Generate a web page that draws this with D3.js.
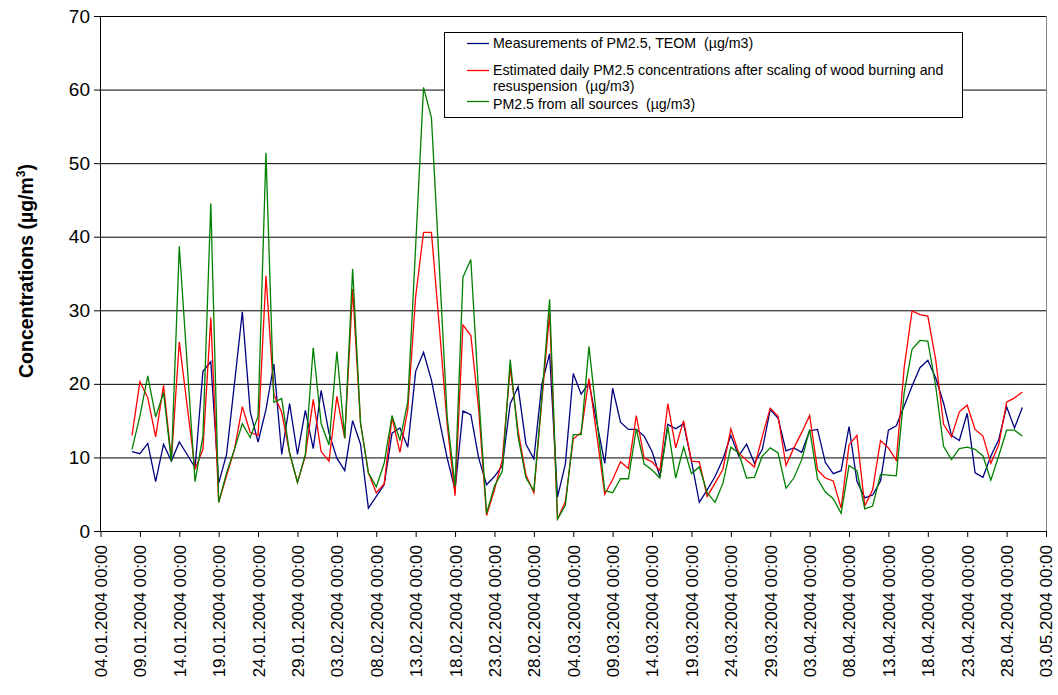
<!DOCTYPE html>
<html>
<head>
<meta charset="utf-8">
<script src="https://cdn.jsdelivr.net/npm/d3@7"></script>
<style>
  body { margin: 0; background: #fff; }
  svg { display: block; }
  text { font-family: "Liberation Sans", Arial, sans-serif; fill: #000; }
</style>
</head>
<body>
<svg id="chart" width="1058" height="695"></svg>
<script>
// Daily PM2.5 series, one value per day starting on firstDay (µg/m3)
const firstDay = "08.01.2004";
const teom = [
  10.8, 10.5, 11.9, 6.7, 11.8, 9.5, 12.1, 10.4, 8.6, 21.7,
  23.0, 6.5, 10.4, 20.0, 29.8, 16.2, 12.1, 16.5, 22.7, 10.4,
  17.3, 10.4, 16.4, 11.2, 19.1, 13.3, 9.9, 8.2, 15.0, 11.8,
  3.1, 4.7, 6.3, 13.3, 14.0, 11.4, 21.7, 24.3, 20.5, 15.1,
  9.9, 5.6, 16.3, 15.8, 9.9, 6.3, 7.4, 8.9, 17.3, 19.6,
  11.8, 9.8, 19.9, 24.1, 4.6, 9.1, 21.4, 18.6, 20.1, 14.7,
  9.2, 19.4, 14.8, 13.8, 13.8, 12.9, 10.8, 7.4, 14.5, 13.9,
  14.6, 9.5, 3.9, 5.6, 7.4, 9.8, 13.0, 10.2, 11.8, 9.2,
  11.1, 16.5, 15.3, 10.9, 11.3, 10.7, 13.6, 13.8, 9.3, 7.8,
  8.2, 14.2, 6.8, 4.5, 4.9, 6.8, 13.7, 14.3, 17.0, 19.7,
  22.2, 23.2, 20.8, 17.4, 13.0, 12.3, 16.0, 7.9, 7.3, 10.2,
  12.4, 16.9, 14.0, 16.8
];
const scaled = [
  13.0, 20.3, 18.1, 12.8, 19.8, 9.7, 25.7, 17.0, 8.4, 11.1,
  29.0, 3.9, 7.5, 11.1, 16.9, 13.4, 13.0, 34.7, 18.6, 16.1,
  10.6, 6.6, 10.2, 17.9, 10.8, 9.5, 18.3, 12.6, 32.9, 14.7,
  7.9, 5.2, 6.4, 15.4, 10.7, 16.5, 31.9, 40.6, 40.6, 27.8,
  14.5, 4.8, 28.0, 26.6, 16.5, 2.1, 5.6, 9.7, 22.2, 13.6,
  7.6, 5.2, 17.5, 29.6, 1.6, 4.0, 12.5, 13.4, 20.7, 12.9,
  5.0, 7.0, 9.4, 8.5, 15.7, 9.9, 9.4, 8.2, 17.3, 11.3,
  15.0, 9.5, 9.4, 4.7, 6.5, 8.4, 13.9, 10.6, 9.6, 8.7,
  12.9, 16.7, 15.6, 8.9, 11.3, 13.4, 15.7, 8.3, 7.2, 6.8,
  3.1, 11.7, 13.0, 3.4, 5.6, 12.3, 11.3, 9.6, 22.2, 29.9,
  29.4, 29.2, 23.3, 14.5, 12.8, 16.2, 17.1, 13.8, 12.9, 9.2,
  11.7, 17.5, 18.1, 18.9
];
const allSources = [
  11.1, 15.6, 21.1, 15.5, 18.8, 9.4, 38.7, 22.7, 6.7, 12.9,
  44.5, 3.9, 7.9, 11.1, 14.6, 12.7, 15.6, 51.4, 17.5, 18.0,
  10.6, 6.6, 10.4, 24.9, 14.6, 11.7, 24.4, 12.6, 35.6, 14.7,
  7.9, 6.0, 9.2, 15.7, 12.3, 17.6, 38.7, 60.3, 56.2, 36.0,
  15.5, 6.1, 34.5, 36.9, 18.5, 2.4, 6.1, 8.1, 23.3, 12.8,
  7.2, 5.5, 18.0, 31.5, 1.6, 3.5, 13.1, 13.1, 25.1, 15.1,
  5.5, 5.2, 7.1, 7.1, 13.9, 9.1, 8.3, 7.2, 14.2, 7.2,
  11.4, 7.8, 8.7, 5.2, 3.9, 6.5, 11.4, 10.6, 7.2, 7.3,
  10.2, 11.3, 10.6, 5.8, 7.2, 9.7, 13.8, 7.1, 5.3, 4.4,
  2.4, 8.9, 8.2, 3.0, 3.4, 7.7, 7.6, 7.5, 18.8, 24.7,
  25.9, 25.8, 19.7, 11.5, 9.7, 11.2, 11.4, 11.1, 10.2, 6.9,
  10.2, 13.7, 13.7, 12.9
];

// Axis setup
const axisStart = "04.01.2004";
const axisEnd = "03.05.2004";
const tickStepDays = 5;
const yTicks = [0, 10, 20, 30, 40, 50, 60, 70];

const seriesNames = [
  "Measurements of PM2.5, TEOM  (µg/m3)",
  "Estimated daily PM2.5 concentrations after scaling of wood burning and|resuspension  (µg/m3)",
  "PM2.5 from all sources  (µg/m3)"
];
const seriesColors = ["#000080", "#ff0000", "#008000"];

const parseDay = d3.utcParse("%d.%m.%Y");
const fmtTick = d3.utcFormat("%d.%m.%Y %H:%M");

const svg = d3.select("#chart");
const plotLeft = 100, plotRight = 1046, plotTop = 16, plotBottom = 531;

const t0 = parseDay(axisStart), t1 = parseDay(axisEnd);
const x = d3.scaleUtc().domain([t0, t1]).range([plotLeft + 0.5, plotRight]);
const y = d3.scaleLinear().domain([0, 70]).range([plotBottom, plotTop]);

const start = parseDay(firstDay);
const days = teom.map((_, i) => d3.utcDay.offset(start, i));

// horizontal gridlines
svg.append("g").selectAll("line").data(yTicks.filter(v => v > 0)).join("line")
  .attr("x1", plotLeft).attr("x2", plotRight)
  .attr("y1", d => y(d) + 0.5).attr("y2", d => y(d) + 0.5)
  .attr("stroke", "#000").attr("stroke-width", 1);

// right edge of plot area
svg.append("line")
  .attr("x1", plotRight + 0.5).attr("x2", plotRight + 0.5)
  .attr("y1", y(70)).attr("y2", plotBottom + 0.5)
  .attr("stroke", "#808080").attr("stroke-width", 1);

// y axis
const yAxis = svg.append("g").attr("transform", `translate(${plotLeft},0)`)
  .call(d3.axisLeft(y).tickValues(yTicks).tickFormat(d3.format("d")).tickSize(6).tickPadding(4));
yAxis.attr("font-family", null).attr("font-size", null);
yAxis.selectAll("text").attr("font-size", 19);
yAxis.selectAll("path, line").attr("stroke", "#000");

// x axis with date ticks every five days
const nTicks = Math.round((t1 - t0) / 864e5 / tickStepDays);
const tickDates = d3.range(nTicks + 1).map(k => d3.utcDay.offset(t0, k * tickStepDays));
const xAxis = svg.append("g").attr("transform", `translate(0,${plotBottom})`)
  .call(d3.axisBottom(x).tickValues(tickDates).tickFormat(fmtTick).tickSize(6).tickSizeOuter(0));
xAxis.attr("font-family", null).attr("font-size", null);
xAxis.selectAll("path, line").attr("stroke", "#000");
xAxis.selectAll("text")
  .attr("font-size", 17)
  .attr("transform", "rotate(-90)")
  .attr("text-anchor", "end")
  .attr("x", -14).attr("y", 0).attr("dy", "0.35em");

// series lines
const line = d3.line().x((d, i) => x(days[i])).y(d => y(d));
[teom, scaled, allSources].forEach((vals, k) => {
  svg.append("path").datum(vals)
    .attr("d", line)
    .attr("fill", "none")
    .attr("stroke", seriesColors[k])
    .attr("stroke-width", 1.3)
    .attr("stroke-linejoin", "miter");
});

// y axis title
const ttl = svg.append("text")
  .attr("transform", "translate(33,271) rotate(-90)")
  .attr("text-anchor", "middle")
  .attr("font-size", 19.5).attr("font-weight", "bold");
ttl.append("tspan").text("Concentrations (µg/m");
ttl.append("tspan").attr("font-size", 12).attr("dy", -8).text("3");
ttl.append("tspan").attr("dy", 8).text(")");

// legend
const lg = svg.append("g");
lg.append("rect").attr("x", 444.5).attr("y", 32.5).attr("width", 518).attr("height", 85)
  .attr("fill", "#fff").attr("stroke", "#000").attr("stroke-width", 1);
const rowLineY = [43.5, 70.5, 101.5];
const rowTextY = [48, 75, 108.5];
const wrapStep = 16;
seriesNames.forEach((name, k) => {
  lg.append("line").attr("x1", 467).attr("x2", 489)
    .attr("y1", rowLineY[k]).attr("y2", rowLineY[k])
    .attr("stroke", seriesColors[k]).attr("stroke-width", 1.3);
  const parts = name.split("|");
  parts.forEach((p, j) => {
    lg.append("text").attr("x", 493).attr("y", rowTextY[k] + j * wrapStep)
      .attr("font-size", 14.2).style("white-space", "pre").text(p);
  });
});
</script>
</body>
</html>
